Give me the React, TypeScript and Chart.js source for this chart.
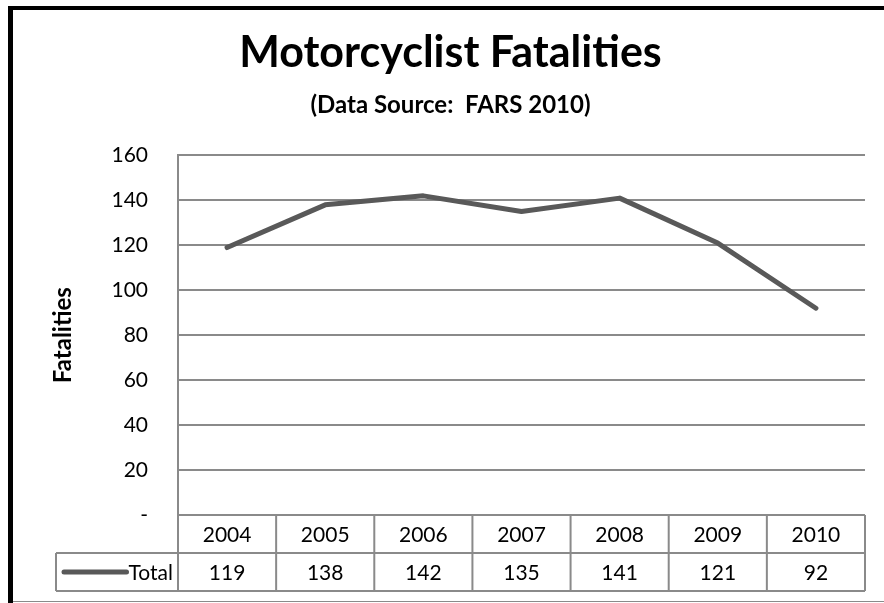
import React, { useEffect, useRef } from "react";
import { Chart, registerables } from "chart.js";

Chart.register(...registerables);

const titleText = "Motorcyclist Fatalities";
const subtitleText = "(Data Source:  FARS 2010)";
const yAxisTitle = "Fatalities";
const categories = ["2004", "2005", "2006", "2007", "2008", "2009", "2010"];
const seriesName = "Total";
const totalValues = [119, 138, 142, 135, 141, 121, 92];
const yTicks = [0, 20, 40, 60, 80, 100, 120, 140, 160];

const FONT = "Lato, 'Open Sans', sans-serif";
const LINE_COLOR = "#595959";
const GRID_COLOR = "#8a8a8a";
const BODY_SIZE = 21;

const tablePlugin = {
  id: "dataTable",
  afterDraw(chart: any) {
    const { ctx, chartArea } = chart;
    const xs = chart.scales.x;
    const n = categories.length;
    const w = n > 1 ? xs.getPixelForValue(1) - xs.getPixelForValue(0) : chartArea.right - chartArea.left;
    const left = chartArea.left;
    const right = chartArea.right;
    const top = chartArea.bottom;
    const rowH = 38;
    const mid = top + rowH;
    const bot = top + rowH * 2;
    const tableLeft = 56;

    ctx.save();
    ctx.strokeStyle = GRID_COLOR;
    ctx.lineWidth = 2;
    ctx.beginPath();
    ctx.moveTo(left, top);
    ctx.lineTo(right, top);
    ctx.moveTo(tableLeft, mid);
    ctx.lineTo(right, mid);
    ctx.moveTo(tableLeft, bot);
    ctx.lineTo(right, bot);
    ctx.moveTo(left, top);
    ctx.lineTo(left, bot);
    for (let i = 1; i <= n; i++) {
      const x = xs.getPixelForValue(i - 1) + w / 2;
      ctx.moveTo(x, top);
      ctx.lineTo(x, bot);
    }
    ctx.moveTo(tableLeft, mid);
    ctx.lineTo(tableLeft, bot);
    ctx.stroke();

    ctx.fillStyle = "#000";
    ctx.font = `${BODY_SIZE}px ${FONT}`;
    ctx.textAlign = "center";
    ctx.textBaseline = "middle";
    categories.forEach((c, i) => {
      const x = xs.getPixelForValue(i);
      ctx.fillText(c, x, top + rowH / 2 + 1);
      ctx.fillText(String(totalValues[i]), x, mid + rowH / 2 + 1);
    });

    // legend key
    ctx.textAlign = "right";
    const textRight = left - 5;
    ctx.fillText(seriesName, textRight, mid + rowH / 2 + 1);
    const tw = ctx.measureText(seriesName).width;
    ctx.strokeStyle = LINE_COLOR;
    ctx.lineWidth = 5;
    ctx.lineCap = "round";
    ctx.beginPath();
    ctx.moveTo(64, mid + rowH / 2);
    ctx.lineTo(textRight - tw - 2, mid + rowH / 2);
    ctx.stroke();

    // outer frame
    ctx.fillStyle = "#000";
    ctx.fillRect(8, 6, chart.width - 8, 4);
    ctx.fillRect(8, 6, 5, chart.height - 6);
    ctx.fillStyle = "#8a8a8a";
    ctx.fillRect(13, chart.height - 2, chart.width - 13, 1);
    ctx.restore();
  },
};

export default function App() {
  const ref = useRef<HTMLCanvasElement>(null);
  useEffect(() => {
    document.body.style.margin = "0";
    const canvas = ref.current;
    if (!canvas) return;
    const chart = new Chart(canvas, {
      type: "line",
      data: {
        labels: categories,
        datasets: [
          {
            label: seriesName,
            data: totalValues,
            borderColor: LINE_COLOR,
            backgroundColor: LINE_COLOR,
            borderWidth: 5,
            pointRadius: 0,
            tension: 0,
            borderCapStyle: "round",
            borderJoinStyle: "round",
          },
        ],
      },
      options: {
        animation: false,
        responsive: false,
        maintainAspectRatio: false,
        layout: { padding: { left: 36, right: 19, top: 0, bottom: 88 } },
        plugins: {
          legend: { display: false },
          tooltip: { enabled: false },
          title: {
            display: true,
            text: titleText,
            color: "#000",
            font: { family: FONT, size: 43, weight: "bold", lineHeight: 1.2 },
            padding: { top: 27, bottom: 6 },
          },
          subtitle: {
            display: true,
            text: subtitleText,
            color: "#000",
            font: { family: FONT, size: 24, weight: "bold", lineHeight: 1.2 },
            padding: { top: 6, bottom: 36 },
          },
        },
        scales: {
          x: {
            type: "category",
            offset: true,
            display: false,
          },
          y: {
            min: 0,
            max: 160,
            afterBuildTicks: (scale: any) => {
              scale.ticks = yTicks.map((v) => ({ value: v }));
            },
            afterFit: (scale: any) => {
              scale.width = 142;
            },
            ticks: {
              color: "#000",
              padding: 30,
              font: { family: FONT, size: BODY_SIZE },
              callback: (v: any) => (Number(v) === 0 ? "-" : String(v)),
            },
            grid: { color: GRID_COLOR, lineWidth: 2, drawTicks: false },
            border: { display: true, color: GRID_COLOR, width: 2 },
            title: {
              display: true,
              text: yAxisTitle,
              color: "#000",
              font: { family: FONT, size: 24, weight: "bold", lineHeight: 1.2 },
              padding: { top: 13, bottom: 0 },
            },
          },
        },
      },
      plugins: [tablePlugin],
    });
    return () => chart.destroy();
  }, []);
  return <canvas ref={ref} width={884} height={603} style={{ display: "block" }} />;
}
